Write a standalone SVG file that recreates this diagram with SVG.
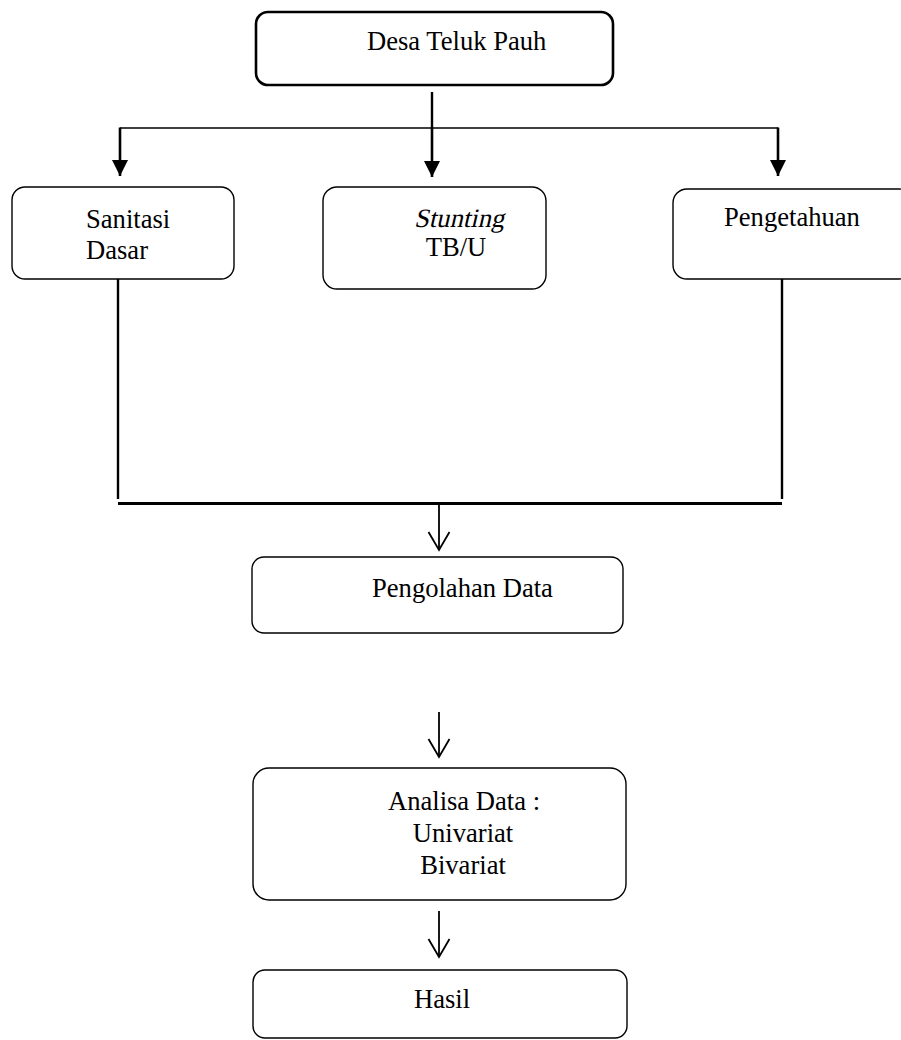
<svg xmlns="http://www.w3.org/2000/svg" width="901" height="1040" viewBox="0 0 901 1040">
<style>
text{font-family:"Liberation Serif","Times New Roman",serif;font-size:26.6px;fill:#000}
.box{fill:#fff;stroke:#000;stroke-width:1.4}
.thick{stroke-width:2.6}
.ln{stroke:#000;fill:none}
.c{text-anchor:middle}
</style>
<defs>
<marker id="fill" markerWidth="16" markerHeight="16" viewBox="0 0 16 16" refX="16" refY="8" orient="auto" markerUnits="userSpaceOnUse">
<path d="M0,0 L16,8 L0,16 Z" fill="#000"/>
</marker>
<marker id="open" markerWidth="22" markerHeight="24" viewBox="0 0 22 24" refX="20" refY="12" orient="auto" markerUnits="userSpaceOnUse">
<path d="M2,1.5 L20,12 L2,22.5" fill="none" stroke="#000" stroke-width="1.8"/>
</marker>
</defs>
<g id="connectors">
<line class="ln" x1="432" y1="92" x2="432" y2="128" stroke-width="2.4"/>
<line class="ln" x1="120" y1="128" x2="778" y2="128" stroke-width="1.4"/>
<line class="ln" x1="120" y1="127.5" x2="120" y2="176" stroke-width="2.6" marker-end="url(#fill)"/>
<line class="ln" x1="432" y1="127.5" x2="432" y2="177" stroke-width="2.6" marker-end="url(#fill)"/>
<line class="ln" x1="778" y1="127.5" x2="778" y2="176" stroke-width="2.6" marker-end="url(#fill)"/>
<line class="ln" x1="118" y1="279" x2="118" y2="499" stroke-width="2.4"/>
<line class="ln" x1="782" y1="279" x2="782" y2="499" stroke-width="2.4"/>
<line class="ln" x1="118" y1="503.5" x2="782" y2="503.5" stroke-width="3"/>
<line class="ln" x1="439" y1="504" x2="439" y2="550" stroke-width="1.8" marker-end="url(#open)"/>
<line class="ln" x1="439" y1="712" x2="439" y2="757" stroke-width="1.8" marker-end="url(#open)"/>
<line class="ln" x1="439" y1="911" x2="439" y2="957" stroke-width="1.8" marker-end="url(#open)"/>
</g>
<g id="desa">
<rect class="box thick" x="256" y="12" width="357" height="73" rx="12"/>
<text x="367" y="50">Desa Teluk Pauh</text>
</g>
<g id="sanitasi">
<rect class="box" x="12" y="187" width="222" height="92" rx="13"/>
<text x="86" y="228">Sanitasi</text>
<text x="86" y="259">Dasar</text>
</g>
<g id="stunting">
<rect class="box" x="323" y="187" width="223" height="102" rx="14"/>
<text class="c" x="0" y="0" font-size="25.8" transform="translate(459,227) skewX(-13)">Stunting</text>
<text class="c" x="456" y="256">TB/U</text>
</g>
<g id="pengetahuan">
<rect class="box" x="673" y="189" width="240" height="90" rx="14"/>
<text x="724" y="226">Pengetahuan</text>
</g>
<g id="pengolahan">
<rect class="box" x="252" y="557" width="371" height="76" rx="12"/>
<text x="372" y="597">Pengolahan Data</text>
</g>
<g id="analisa">
<rect class="box" x="253" y="768" width="373" height="132" rx="16"/>
<text class="c" x="464" y="810">Analisa Data :</text>
<text class="c" x="463" y="842">Univariat</text>
<text class="c" x="463" y="874">Bivariat</text>
</g>
<g id="hasil">
<rect class="box" x="253" y="970" width="374" height="68" rx="12"/>
<text x="414" y="1008">Hasil</text>
</g>
</svg>
